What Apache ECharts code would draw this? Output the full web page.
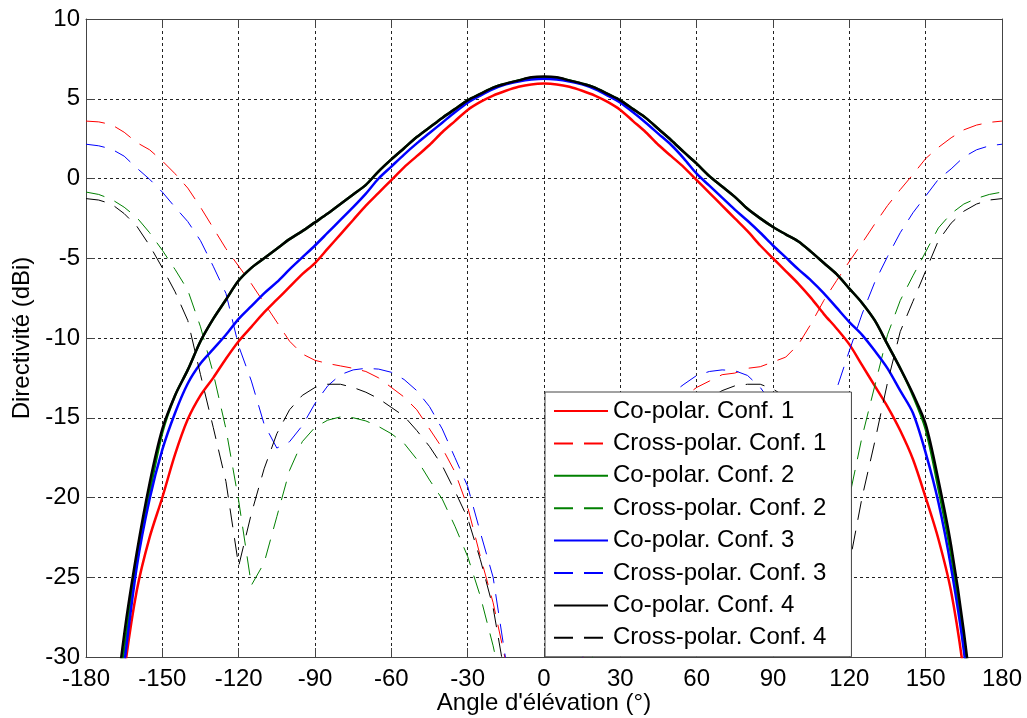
<!DOCTYPE html>
<html>
<head>
<meta charset="utf-8">
<script src="https://cdn.jsdelivr.net/npm/echarts@6/dist/echarts.min.js"></script>
<style>
  html, body { margin: 0; padding: 0; background: #fff; }
  #chart { width: 1027px; height: 718px; }
</style>
</head>
<body>
<div id="chart"></div>
<script>
// angles d'élévation (°)
const angles = [
  -180, -175, -170, -165, -160, -155, -150, -145, -140, -135, -130, -125, -120,
  -115, -110, -105, -100, -95, -90, -85, -80, -75, -70, -65, -60, -55, -50,
  -45, -40, -35, -30, -25, -20, -15, -10, -5, 0, 5, 10, 15, 20, 25, 30,
  35, 40, 45, 50, 55, 60, 65, 70, 75, 80, 85, 90, 95, 100, 105, 110,
  115, 120, 125, 130, 135, 140, 145, 150, 155, 160, 165, 170, 175, 180
];

// directivité (dBi)
const coPol1 = [
  -60, -48, -38, -31, -25.8, -22.5, -20, -17.3, -15.1, -13.6, -12.5, -11.3, -10.2,
  -9.3, -8.4, -7.6, -6.8, -6.0, -5.3, -4.4, -3.5, -2.6, -1.7, -0.9, -0.1, 0.7, 1.4,
  2.1, 2.9, 3.6, 4.3, 4.8, 5.2, 5.5, 5.75, 5.9, 5.95, 5.9, 5.75, 5.5, 5.2, 4.8, 4.3,
  3.6, 2.9, 2.1, 1.4, 0.7, -0.1, -0.9, -1.7, -2.5, -3.3, -4.2, -5.0, -5.8, -6.6, -7.5, -8.5,
  -9.4, -10.4, -11.7, -13.0, -14.3, -15.8, -17.6, -20, -22.6, -25.9, -31, -38, -48, -60
];
const crossPol1 = [
  3.6, 3.55, 3.38, 2.9, 2.25, 1.8, 1.1, 0.3, -0.6, -1.8, -3.1, -4.4, -5.5,
  -6.6, -7.8, -9.0, -10.2, -11.0, -11.4, -11.6, -11.75, -11.9, -12.1, -12.5, -13.1, -13.7, -14.5,
  -15.7, -16.9, -18.4, -20.6, -23.7, -26.6, -30.3, -35, -40, -42, -40, -35, -30.3, -26.6, -23.7, -20.6,
  -18.4, -16.9, -15.6, -14.5, -13.7, -13.1, -12.7, -12.3, -12.2, -11.9, -11.8, -11.5, -11.2, -10.4, -9.1, -7.64,
  -6.4, -5.2, -4.05, -2.85, -1.7, -0.7, 0.25, 1.25, 1.95, 2.55, 3.05, 3.35, 3.52, 3.6
];
const coPol2 = [
  -60, -46, -36.5, -29.5, -24.0, -19.7, -15.9, -13.6, -12.0, -10.2, -8.8, -7.6, -6.4,
  -5.6, -5.0, -4.4, -3.8, -3.3, -2.75, -2.2, -1.6, -1.0, -0.4, 0.45, 1.2, 1.9, 2.6,
  3.2, 3.8, 4.35, 4.9, 5.3, 5.7, 5.95, 6.15, 6.3, 6.35, 6.3, 6.15, 5.95, 5.7, 5.3, 4.9,
  4.35, 3.8, 3.1, 2.4, 1.65, 0.93, 0.15, -0.5, -1.15, -1.9, -2.5, -3.04, -3.5, -3.95, -4.6, -5.3,
  -6.0, -6.9, -7.8, -8.9, -10.4, -11.9, -13.6, -15.7, -19.4, -23.6, -29.2, -36.5, -46, -60
];
const crossPol2 = [
  -0.85, -1.0, -1.3, -1.8, -2.45, -3.4, -4.5, -5.7, -7.0, -9.3, -12.2, -15.7, -20.2,
  -25.5, -24.1, -21.2, -18.3, -16.5, -15.6, -15.15, -14.95, -15.0, -15.2, -15.55, -16.0, -16.6, -17.6,
  -18.9, -20.1, -21.8, -23.7, -26.2, -29.3, -33, -38, -42, -44, -42, -38, -33, -29.3, -26.2, -23.7,
  -21.8, -20.1, -18.9, -17.6, -16.6, -16.0, -15.5, -15.2, -15.0, -15.0, -15.2, -15.6, -16.6, -18.5, -21.5, -24.5,
  -25.3, -20.0, -16.2, -13.0, -9.8, -7.65, -6.1, -4.6, -3.1, -2.2, -1.6, -1.25, -1.0, -0.85
];
const coPol3 = [
  -60, -48, -37.5, -30.5, -24.3, -20.1, -17.0, -14.7, -12.85, -11.6, -10.7, -9.8, -8.8,
  -8.0, -7.2, -6.5, -5.7, -4.95, -4.2, -3.4, -2.6, -1.8, -0.95, 0.0, 0.75, 1.5, 2.2,
  2.85, 3.5, 4.15, 4.75, 5.2, 5.6, 5.9, 6.08, 6.2, 6.25, 6.2, 6.08, 5.9, 5.6, 5.2, 4.75,
  4.15, 3.5, 2.8, 2.1, 1.25, 0.3, -0.45, -1.2, -1.95, -2.65, -3.4, -4.2, -4.95, -5.7, -6.4, -7.2,
  -8.1, -9.0, -9.8, -10.8, -11.9, -13.3, -14.7, -17.2, -20.3, -24.4, -29.6, -37, -47, -60
];
const crossPol3 = [
  2.15, 2.05, 1.85, 1.4, 0.65, -0.05, -0.85, -1.8, -2.7, -3.9, -5.5, -7.2, -10.5,
  -12.7, -15.4, -16.9, -16.5, -15.5, -14.1, -13.0, -12.3, -12.0, -11.9, -11.95, -12.15, -12.6, -13.3,
  -14.3, -15.7, -17.5, -19.3, -22.2, -25.0, -30.2, -36, -41, -43, -41, -36, -30.2, -25.0, -22.2, -19.3,
  -17.5, -15.7, -14.4, -13.5, -12.9, -12.35, -12.1, -12.0, -12.05, -12.35, -13.1, -14.2, -15.6, -16.6, -16.9, -15.5,
  -13.2, -10.8, -8.5, -6.5, -4.9, -3.4, -2.15, -1.1, -0.05, 0.6, 1.35, 1.8, 2.05, 2.15
];
const coPol4 = [
  -60, -45, -35.5, -28.6, -23.4, -19.1, -15.7, -13.6, -12.0, -10.2, -8.8, -7.6, -6.4,
  -5.6, -5.0, -4.4, -3.8, -3.3, -2.75, -2.2, -1.6, -1.0, -0.4, 0.45, 1.2, 1.9, 2.6,
  3.2, 3.8, 4.35, 4.9, 5.3, 5.7, 5.95, 6.15, 6.35, 6.4, 6.35, 6.15, 5.95, 5.7, 5.3, 4.9,
  4.35, 3.8, 3.1, 2.4, 1.65, 0.93, 0.15, -0.5, -1.15, -1.9, -2.5, -3.04, -3.5, -3.95, -4.6, -5.3,
  -6.0, -6.9, -7.8, -8.9, -10.4, -11.9, -13.5, -15.4, -18.9, -23.0, -28.4, -35.5, -45, -60
];
const crossPol4 = [
  -1.26, -1.35, -1.6, -2.2, -3.0, -4.2, -5.6, -7.1, -8.9, -12.3, -15.6, -19.0, -24.3,
  -21.0, -18.2, -16.0, -14.5, -13.6, -13.1, -12.9, -12.9, -13.1, -13.4, -13.8, -14.35, -14.9, -15.8,
  -16.8, -18.0, -19.6, -21.3, -23.9, -26.9, -31.5, -37, -42, -44, -42, -37, -31.5, -26.9, -23.9, -21.3,
  -19.6, -18.0, -16.8, -15.8, -14.9, -14.3, -13.8, -13.3, -13.0, -12.9, -12.9, -13.2, -13.7, -14.6, -16.0, -18.0,
  -20.6, -24.2, -20.0, -16.5, -12.8, -9.6, -7.7, -5.8, -3.9, -2.8, -2.05, -1.6, -1.35, -1.26
];

const seriesNames = [
  'Co-polar. Conf. 1', 'Cross-polar. Conf. 1',
  'Co-polar. Conf. 2', 'Cross-polar. Conf. 2',
  'Co-polar. Conf. 3', 'Cross-polar. Conf. 3',
  'Co-polar. Conf. 4', 'Cross-polar. Conf. 4'
];
const seriesValues = [coPol1, crossPol1, coPol2, crossPol2, coPol3, crossPol3, coPol4, crossPol4];
const seriesColors = ['#ff0000', '#ff0000', '#008000', '#008000', '#0000ff', '#0000ff', '#000000', '#000000'];

const FONT = "'Liberation Sans', Arial, sans-serif";
const gridLine = { show: true, lineStyle: { color: '#222', width: 1, type: [3, 3] } };
const boxLine = { show: true, onZero: false, lineStyle: { color: '#444', width: 1 } };
const inTick = { show: true, inside: true, length: 9, lineStyle: { color: '#444' } };

const chart = echarts.init(document.getElementById('chart'), null, { renderer: 'canvas' });

const series = seriesNames.map((name, i) => {
  const dashed = i % 2 === 1;
  return {
    name: name,
    type: 'line',
    symbol: 'none',
    smooth: dashed ? false : 0.3,
    clip: true,
    data: angles.map((a, k) => [a, seriesValues[i][k]]),
    lineStyle: {
      color: seriesColors[i],
      width: dashed ? 1 : 2.5,
      type: dashed ? [19, 11] : 'solid'
    },
    itemStyle: { color: seriesColors[i] },
    emphasis: { disabled: true }
  };
});

chart.setOption({
  animation: false,
  backgroundColor: '#fff',
  textStyle: { fontFamily: FONT },
  grid: { left: 86, right: 25, top: 19, bottom: 61, containLabel: false, outerBoundsMode: 'none' },
  legend: {
    orient: 'vertical',
    left: 545,
    top: 392,
    itemWidth: 54,
    itemHeight: 22,
    itemGap: 8.4,
    itemTextGap: 8,
    padding: [7, 25, 7, 8],
    backgroundColor: '#fff',
    borderColor: '#444',
    borderWidth: 1,
    borderRadius: 0,
    itemStyle: { opacity: 0 },
    textStyle: { fontSize: 24, color: '#000', fontFamily: FONT, lineHeight: 24 },
    data: seriesNames
  },
  xAxis: [
    {
      type: 'value', min: -180, max: 180, interval: 30, position: 'bottom',
      axisLine: boxLine, axisTick: inTick, splitLine: gridLine,
      axisLabel: { fontSize: 24, color: '#000', margin: 10, fontFamily: FONT },
      name: "Angle d'élévation (°)", nameLocation: 'middle', nameGap: 34, nameMoveOverlap: false,
      nameTextStyle: { fontSize: 24, color: '#000', fontFamily: FONT }
    },
    {
      type: 'value', min: -180, max: 180, interval: 30, position: 'top',
      axisLine: boxLine, axisTick: inTick, splitLine: { show: false },
      axisLabel: { show: false }
    }
  ],
  yAxis: [
    {
      type: 'value', min: -30, max: 10, interval: 5, position: 'left',
      axisLine: boxLine, axisTick: inTick, splitLine: gridLine,
      axisLabel: { fontSize: 24, color: '#000', margin: 6, fontFamily: FONT },
      name: 'Directivité (dBi)', nameLocation: 'middle', nameGap: 52, nameMoveOverlap: false,
      nameTextStyle: { fontSize: 24, color: '#000', fontFamily: FONT }
    },
    {
      type: 'value', min: -30, max: 10, interval: 5, position: 'right',
      axisLine: boxLine, axisTick: inTick, splitLine: { show: false },
      axisLabel: { show: false }
    }
  ],
  series: series
});
</script>
</body>
</html>
